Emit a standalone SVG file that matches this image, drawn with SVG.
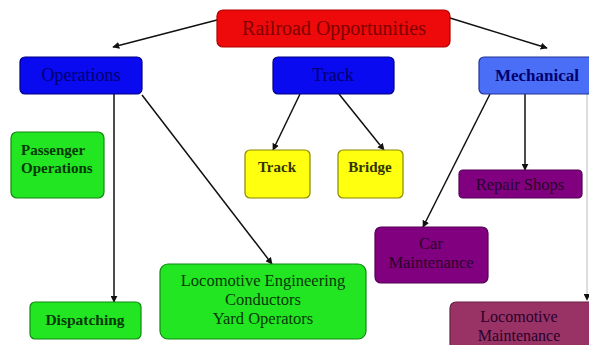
<svg xmlns="http://www.w3.org/2000/svg" width="589" height="345" viewBox="0 0 589 345">
<defs>
<style>
text{font-family:"Liberation Serif","Times New Roman",serif;text-anchor:middle}
.red{fill:#ee0a0a;stroke:#b00000;stroke-width:1.2}
.blue{fill:#0a0af0;stroke:#000080;stroke-width:1.2}
.mech{fill:#4a6ef5;stroke:#223399;stroke-width:1.2}
.green{fill:#22e622;stroke:#118811;stroke-width:1.2}
.yellow{fill:#ffff10;stroke:#888800;stroke-width:1.2}
.purple{fill:#800080;stroke:#550055;stroke-width:1.2}
.maroon{fill:#993366;stroke:#662244;stroke-width:1.2}
.tr{fill:#800000;font-size:20px}
.tb{fill:#000070;font-size:18px}
.tg{fill:#063806;font-size:15px}
.ty{fill:#333300;font-size:15px}
.tp{fill:#2a002a;font-size:16.5px}
.edge{stroke:#111;stroke-width:1.5;fill:none;marker-end:url(#ah)}
.faint{stroke:#bbb;stroke-width:1;fill:none;marker-end:url(#ah)}
</style>
<marker id="ah" viewBox="0 0 10 10" refX="9" refY="5" markerWidth="7" markerHeight="7" orient="auto" markerUnits="userSpaceOnUse">
<path d="M0,0 L10,5 L0,10 z" fill="#111"/>
</marker>
</defs>
<rect width="589" height="345" fill="#ffffff"/>
<g id="connectors">
<line class="edge" x1="217" y1="20" x2="113" y2="47"/>
<line class="edge" x1="450" y1="18" x2="547" y2="48"/>
<line class="edge" x1="114" y1="94" x2="114" y2="302"/>
<line class="edge" x1="142" y1="95" x2="272" y2="264"/>
<line class="edge" x1="300" y1="94" x2="273" y2="150"/>
<line class="edge" x1="339" y1="94" x2="384" y2="150"/>
<line class="edge" x1="490" y1="94" x2="423" y2="227"/>
<line class="edge" x1="525" y1="94" x2="525" y2="170"/>
<line class="faint" x1="587" y1="94" x2="587" y2="300"/>
</g>
<g id="railroad"><rect class="red" x="217" y="10" width="233" height="37" rx="6"/><text class="tr" x="334" y="35">Railroad Opportunities</text></g>
<g id="operations"><rect class="blue" x="20" y="57" width="122" height="37" rx="5"/><text class="tb" x="81" y="81">Operations</text></g>
<g id="track-top"><rect class="blue" x="273" y="57" width="121" height="37" rx="5"/><text class="tb" x="333" y="81">Track</text></g>
<g id="mechanical"><rect class="mech" x="479" y="57" width="115" height="37" rx="5"/><text class="tb" x="537" y="81" style="font-weight:bold;font-size:17px">Mechanical</text></g>
<g id="passenger"><rect class="green" x="11" y="132" width="93" height="66" rx="6"/><text class="tg" x="21" y="155" style="text-anchor:start;font-weight:bold">Passenger</text><text class="tg" x="21" y="173" style="text-anchor:start;font-weight:bold">Operations</text></g>
<g id="track"><rect class="yellow" x="245" y="150" width="65" height="48" rx="5"/><text class="ty" x="277" y="172" style="font-weight:bold">Track</text></g>
<g id="bridge"><rect class="yellow" x="338" y="150" width="65" height="48" rx="5"/><text class="ty" x="370" y="172" style="font-weight:bold">Bridge</text></g>
<g id="repair"><rect class="purple" x="459" y="170" width="123" height="28" rx="4"/><text class="tp" x="520" y="190">Repair Shops</text></g>
<g id="car"><rect class="purple" x="375" y="227" width="113" height="56" rx="6"/><text class="tp" x="431" y="249">Car</text><text class="tp" x="431" y="268">Maintenance</text></g>
<g id="dispatching"><rect class="green" x="30" y="302" width="111" height="37" rx="5"/><text class="tg" x="85" y="325" style="font-weight:bold;font-size:15.5px">Dispatching</text></g>
<g id="loco-eng"><rect class="green" x="160" y="264" width="206" height="75" rx="8"/><text class="tg" x="263" y="286" style="font-size:16.5px">Locomotive Engineering</text><text class="tg" x="263" y="305" style="font-size:16.5px">Conductors</text><text class="tg" x="263" y="324" style="font-size:16.5px">Yard Operators</text></g>
<g id="loco-maint"><rect class="maroon" x="450" y="302" width="145" height="50" rx="6"/><text class="tp" x="519" y="322" style="font-size:16px">Locomotive</text><text class="tp" x="519" y="341" style="font-size:16px">Maintenance</text></g>
</svg>
